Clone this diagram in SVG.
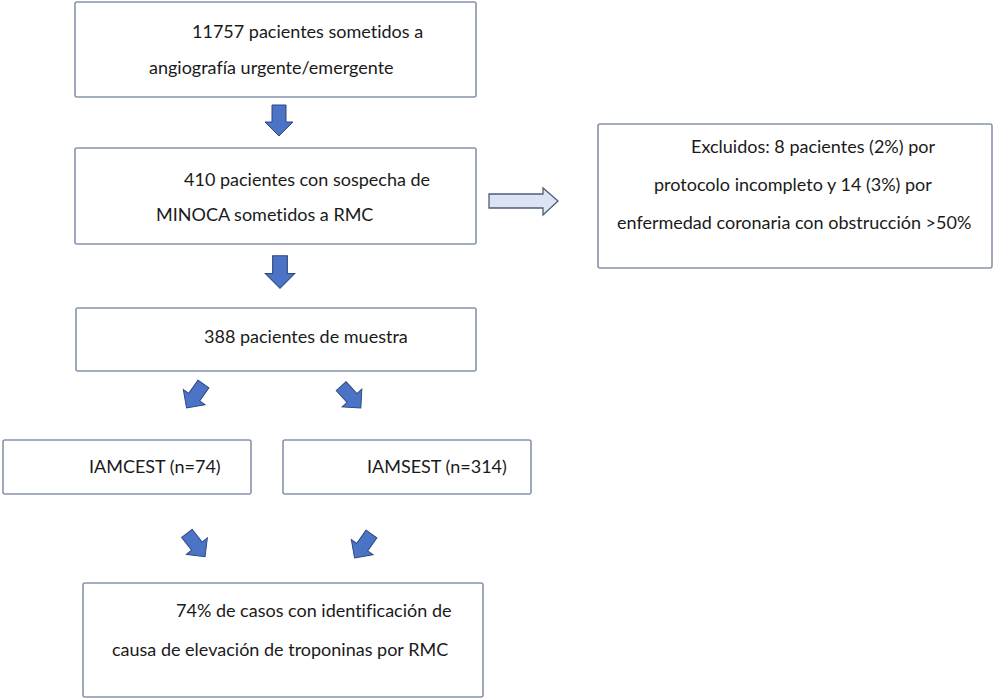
<svg xmlns="http://www.w3.org/2000/svg" width="1000" height="699" viewBox="0 0 1000 699">
<style>
.box{fill:#ffffff;stroke:#8793ad;stroke-width:1.6}
.t{font-family:Lato,"Open Sans","Liberation Sans",sans-serif;font-size:18px;fill:#1a1a1a;font-variant-ligatures:none}
.ba{fill:#4b73c6;stroke:#2c4680;stroke-width:1}
.oa{fill:#dbe4f3;stroke:#4f5d78;stroke-width:1.3}
</style>
<defs>
<path id="darr" d="M-7,-15.5 H7 V1.5 H14 L0,15.5 L-14,1.5 H-7 Z"/>
</defs>
<rect width="1000" height="699" fill="#ffffff"/>
<g id="n1">
<rect class="box" x="75" y="2" width="401" height="95" rx="2"/>
<text class="t" x="192" y="38">11757 pacientes sometidos a</text>
<text class="t" x="149" y="74">angiografía urgente/emergente</text>
</g>
<g id="n2">
<rect class="box" x="75" y="148" width="401" height="96" rx="2"/>
<text class="t" x="184" y="186">410 pacientes con sospecha de</text>
<text class="t" x="156" y="221">MINOCA sometidos a RMC</text>
</g>
<g id="n3">
<rect class="box" x="598" y="124" width="394" height="144" rx="2"/>
<text class="t" x="691" y="153">Excluidos: 8 pacientes (2%) por</text>
<text class="t" x="654" y="191">protocolo incompleto y 14 (3%) por</text>
<text class="t" x="617" y="229">enfermedad coronaria con obstrucción &gt;50%</text>
</g>
<g id="n4">
<rect class="box" x="76" y="308" width="400" height="63" rx="2"/>
<text class="t" x="204" y="343">388 pacientes de muestra</text>
</g>
<g id="n5">
<rect class="box" x="3" y="440" width="248" height="54" rx="2"/>
<text class="t" x="89" y="473">IAMCEST (n=74)</text>
</g>
<g id="n6">
<rect class="box" x="283" y="440" width="248" height="54" rx="2"/>
<text class="t" x="367" y="473">IAMSEST (n=314)</text>
</g>
<g id="n7">
<rect class="box" x="83" y="583" width="400" height="114" rx="2"/>
<text class="t" x="176" y="617">74% de casos con identificación de</text>
<text class="t" x="112" y="656">causa de elevación de troponinas por RMC</text>
</g>
<g id="connectors">
<use href="#darr" class="ba" transform="translate(279,120.5)"/>
<use href="#darr" class="ba" transform="translate(280,272) scale(1.05)"/>
<path class="oa" d="M489,194 H543 V188 L558,201 L543,215 V208 H489 Z"/>
<use href="#darr" class="ba" transform="translate(195,396) rotate(35) scale(0.95)"/>
<use href="#darr" class="ba" transform="translate(351,397) rotate(-42) scale(0.95)"/>
<use href="#darr" class="ba" transform="translate(196,545) rotate(-38) scale(0.95)"/>
<use href="#darr" class="ba" transform="translate(363,546) rotate(35) scale(0.95)"/>
</g>
</svg>
